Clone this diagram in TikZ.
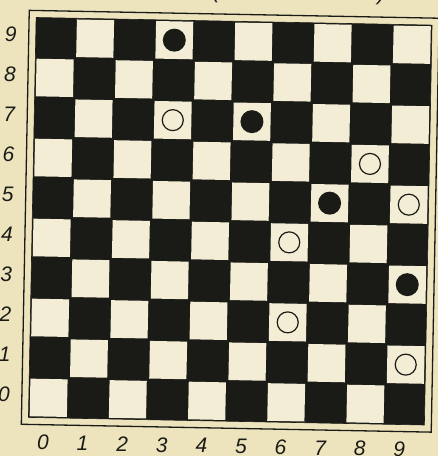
\documentclass[tikz,border=0pt]{standalone}
\usepackage{fontspec}
\setsansfont{Liberation Sans}
\definecolor{bg}{HTML}{EDE4BE}
\definecolor{lite}{HTML}{F2EDD4}
\definecolor{dark}{HTML}{1A1B16}
\tikzset{
  lab/.style={font=\fontsize{21}{21}\selectfont\sffamily\itshape, text=dark, inner sep=0pt},
  wpiece/.style={circle, draw=dark, line width=1.2pt, fill=lite, minimum size=21pt, inner sep=0pt},
  bpiece/.style={circle, fill=dark, minimum size=23pt, inner sep=0pt},
  frameline/.style={draw=dark, line width=1.3pt},
  innerline/.style={draw=dark, line width=0.6pt},
}
\begin{document}
\begin{tikzpicture}[x=1pt,y=1pt]
\fill[bg] (0,0) rectangle (438,456);
\useasboundingbox (0,0) rectangle (438,456);
% cut-off text above the board
\node[lab, anchor=south] (lp) at (216,453) {(};
\node[lab, anchor=south] (rp) at (381,451) {)};
\begin{scope}[shift={(230.25,234.75)}, rotate=-1.1, shift={(-198,-200)}]
  \draw[frameline] (-7,-7) rectangle (403,407);
  \fill[dark] (0,0) rectangle (396,400);
  \foreach \r in {0,...,9}{
    \foreach \c in {0,...,9}{
      \pgfmathtruncatemacro\pty{mod(\r+\c,2)}
      \ifnum\pty=0
        \fill[lite] (\c*39.6+1.2,\r*40+1.2) rectangle ++(37.2,37.6);
      \fi
    }
  }
  \draw[innerline] (0,0) rectangle (396,400);
  % pieces
  \foreach \c/\r in {3/9,5/7,7/5,9/3}{
    \node[bpiece] (b\c\r) at (\c*39.6+19.8,\r*40+20) {};
  }
  \foreach \c/\r in {3/7,8/6,9/5,6/4,6/2,9/1}{
    \node[wpiece] (w\c\r) at (\c*39.6+19.8,\r*40+20) {};
  }
  % row labels
  \foreach \r in {0,...,9}{
    \node[lab] (row\r) at (-25,\r*40+23) {\r};
  }
  % column labels
  \foreach \c in {0,...,9}{
    \node[lab] (col\c) at (\c*39.6+15,-25) {\c};
  }
\end{scope}
\end{tikzpicture}
\end{document}
